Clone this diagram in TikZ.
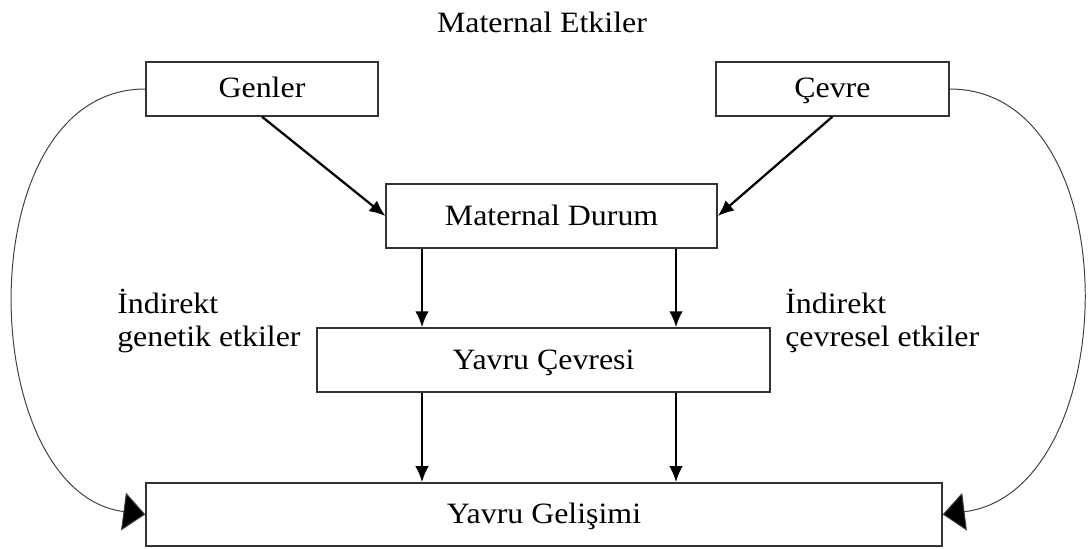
\documentclass[tikz,border=0pt]{standalone}
\usepackage{fontspec}
\setmainfont[FakeStretch=1.08]{Liberation Serif}
\usetikzlibrary{arrows.meta}
\begin{document}
\begin{tikzpicture}[
  every node/.style={font=\fontsize{21}{23.5}\selectfont},
  box/.style={draw=black!80,line width=1pt,inner sep=0pt,text height=0.55cm,text depth=0.1cm},
  side/.style={align=left,anchor=base west,inner sep=0pt},
  flow/.style={line width=1.6pt,-{Latex[length=0.4cm,width=0.34cm]}},
  loop/.style={draw=black!75,line width=0.7pt,-{Triangle[length=0.55cm,width=0.95cm,fill=black]}}
]
\useasboundingbox (0,0) rectangle (27.2,13.7);

\node (title) at (13.55,13.15) {Maternal Etkiler};

\node[box,minimum width=5.8cm,minimum height=1.35cm] (gen) at (6.55,11.475) {Genler};
\node[box,minimum width=5.825cm,minimum height=1.35cm] (cev) at (20.81,11.475) {Çevre};
\node[box,minimum width=8.275cm,minimum height=1.6cm] (md) at (13.79,8.3) {Maternal Durum};
\node[box,minimum width=11.325cm,minimum height=1.6cm] (yc) at (13.59,4.7) {Yavru Çevresi};
\node[box,minimum width=19.9cm,minimum height=1.575cm] (yg) at (13.6,0.84) {Yavru Gelişimi};

\node[side] (igen) at (2.925,5.03) {İndirekt\\genetik etkiler};
\node[side] (icev) at (19.625,5.03) {İndirekt\\çevresel etkiler};

% columns of the vertical arrows
\coordinate (colL) at (10.55,0);
\coordinate (colR) at (16.9,0);

\draw[flow] (gen.south) -- (md.west);
\draw[flow] (cev.south) -- (md.east);
\draw[flow] (md.south -| colL) -- (yc.north -| colL);
\draw[flow] (md.south -| colR) -- (yc.north -| colR);
\draw[flow] (yc.south -| colL) -- (yg.north -| colL);
\draw[flow] (yc.south -| colR) -- (yg.north -| colR);

\draw[loop] (gen.west) .. controls (-0.85,11.475) and (-0.65,1.4) .. (yg.west);
\draw[loop] (cev.east) .. controls (28.3,11.475) and (28.1,1.4) .. (yg.east);

\end{tikzpicture}
\end{document}
